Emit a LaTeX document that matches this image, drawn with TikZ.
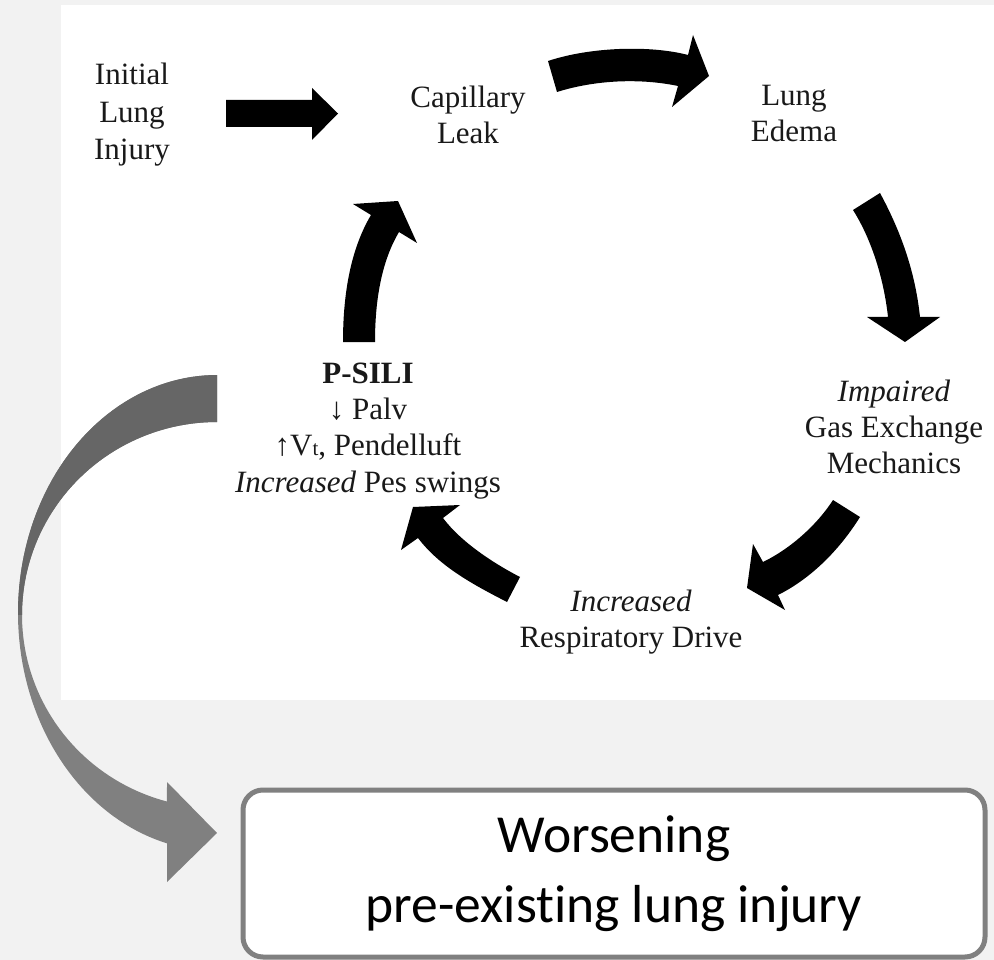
\documentclass[tikz,border=0pt]{standalone}
\usepackage{fontspec}
\setmainfont{Liberation Serif}
\newfontfamily\boxfont[Ligatures=NoCommon]{Carlito}
\definecolor{bgc}{RGB}{242,242,242}
\definecolor{grayD}{RGB}{102,102,102}
\definecolor{grayL}{RGB}{128,128,128}
\definecolor{boxedge}{RGB}{128,128,128}
\definecolor{txt}{RGB}{25,25,25}
\begin{document}
\begin{tikzpicture}[x=1pt,y=-1pt,
  lbl/.style={align=center,anchor=base,inner sep=0pt,font=\fontsize{31}{36}\selectfont,text=txt},
  blk/.style={fill=black},
  boxshape/.style={draw=boxedge,line width=5pt,rounded corners=20pt,fill=white}]
\useasboundingbox (0,0) rectangle (994,960);
\fill[bgc] (0,0) rectangle (994,960);
\fill[white] (61,5) rectangle (994,700);

% gray curved arrow
\def\grayarrow{(217,375) -- plot[domain=270:104.55,samples=90] ({217+199*cos(\x)},{613+238*sin(\x)}) -- (167,882) -- (217,833) -- (167,782) -- plot[domain=104.86:270,samples=90] ({217+195*cos(\x)},{615+193*sin(\x)}) -- cycle}
\fill[grayL] \grayarrow;
\begin{scope}
\clip (0,0) rectangle (994,614);
\fill[grayD] \grayarrow;
\end{scope}

% texts (anchor base = baseline of last line)
\node[lbl,font=\fontsize{31}{37.5}\selectfont] (initial) at (132,160) {Initial\\Lung\\Injury};
\node[lbl] (leak) at (468,144) {Capillary\\Leak};
\node[lbl] (edema) at (794,142) {Lung\\Edema};
\node[lbl,font=\fontsize{31}{36.3}\selectfont] (psili) at (368,492) {\textbf{P-SILI}\\↓ Palv\\↑V{\fontsize{21}{21}\selectfont t}, Pendelluft\\\textit{Increased} Pes swings};
\node[lbl] (gas) at (894,473) {\textit{Impaired}\\Gas Exchange\\Mechanics};
\node[lbl] (drive) at (631,647) {\textit{Increased}\\Respiratory Drive};

% black arrows
\fill[blk] (226,100) -- (312,100) -- (312,88) -- (338,113.5) -- (312,140) -- (312,127) -- (226,127) -- cycle;
\fill[blk] (548,61) .. controls (590,47) and (650,45) .. (688,55) -- (693,35) -- (709,76) -- (672,107) -- (678,86) .. controls (640,78) and (595,80) .. (557,92) -- cycle;
\fill[blk] (853,210) -- (880,193) .. controls (900,230) and (915,270) .. (920,317) -- (940,317) -- (905,342) -- (867,317) -- (888,317) .. controls (884,280) and (872,240) .. (853,210) -- cycle;
\fill[blk] (833,500) .. controls (817,525) and (790,549) .. (763,562) -- (753,544) -- (747,588) -- (785,610) -- (778,595) .. controls (812,578) and (840,549) .. (860,517) -- cycle;
\fill[blk] (520,577) .. controls (493,563) and (461,542) .. (443,518) -- (460,505) -- (413,507) -- (401,550) -- (418,538) .. controls (440,567) and (474,585) .. (507,602) -- cycle;
\fill[blk] (343,342) .. controls (343,299) and (349,252) .. (371,215) -- (353,204) -- (398,201) -- (417,243) -- (399,232) .. controls (380,264) and (375,305) .. (375,342) -- cycle;

% box
\node[boxshape,minimum width=742pt,minimum height=167pt,inner sep=0pt] (box) at (614,873.5) {};
\node[align=center,anchor=base,inner sep=0pt,font=\boxfont\fontsize{53.5}{70}\selectfont] (boxtext) at (614,922) {Worsening\\pre-existing lung injury};
\end{tikzpicture}
\end{document}
